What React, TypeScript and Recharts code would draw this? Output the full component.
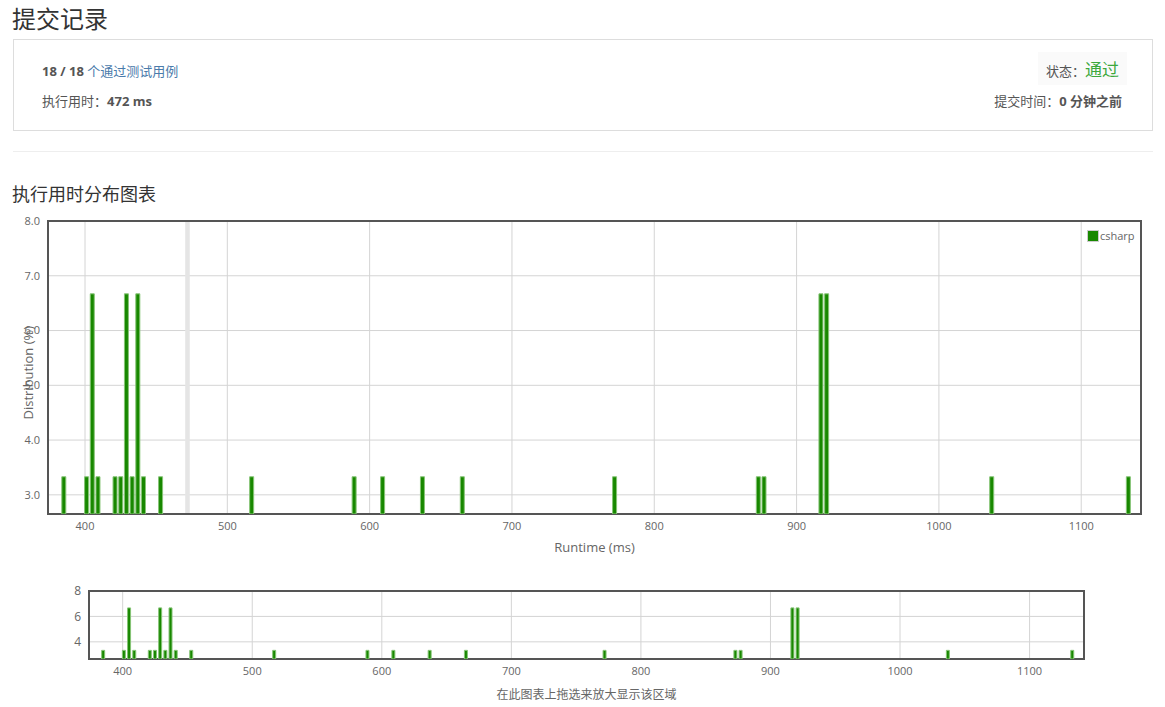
import React from "react";
import {
  BarChart,
  Bar,
  XAxis,
  YAxis,
  CartesianGrid,
  ReferenceArea,
} from "recharts";

// runtime bins (ms) and share of submissions (%)
const runtimeBins = [385, 401, 405, 409, 421, 425, 429, 433, 437, 441, 453, 517, 589, 609, 637, 665, 772, 873, 877, 917, 921, 1037, 1133];
const distribution = [3.33, 3.33, 6.67, 3.33, 3.33, 3.33, 6.67, 3.33, 6.67, 3.33, 3.33, 3.33, 3.33, 3.33, 3.33, 3.33, 3.33, 3.33, 3.33, 6.67, 6.67, 3.33, 3.33];
const xTicks = [400, 500, 600, 700, 800, 900, 1000, 1100];
const yTicks = [3, 4, 5, 6, 7, 8];
const yTicksSmall = [4, 6, 8];
const myRuntime = 472;
const xDomain: [number, number] = [374, 1142];
const yDomain: [number, number] = [2.65, 8];

const data = runtimeBins.map((ms, i) => ({ ms, csharp: distribution[i] }));

const FONT = '"Open Sans", "Noto Sans CJK SC", sans-serif';
const CJK = '"Noto Sans CJK SC", sans-serif';
const GREEN = "#188800";
const tick = { fontSize: 11, fill: "#666", fontFamily: FONT };

export default function App() {
  return (
    <div style={{ position: "absolute", left: 0, top: 0, width: 1165, height: 707, background: "#fff", fontFamily: FONT, color: "#333" }}>
      <div style={{ position: "absolute", left: 12, top: 0, fontSize: 24, fontFamily: CJK }}>提交记录</div>

      <div style={{ position: "absolute", left: 13, top: 39, width: 1138, height: 90, border: "1px solid #ddd" }}>
        <div style={{ position: "absolute", left: 28, top: 21, fontSize: 13, color: "#555" }}>
          <b>18 / 18</b> <span style={{ color: "#4a7bab" }}>个通过测试用例</span>
        </div>
        <div style={{ position: "absolute", left: 28, top: 51, fontSize: 13, color: "#555" }}>
          执行用时：<b>472 ms</b>
        </div>
        <div style={{ position: "absolute", right: 25, top: 12, padding: "4px 8px", background: "#fafafa", fontSize: 13, color: "#555" }}>
          状态：<span style={{ color: "#3ca83c", fontSize: 17 }}>通过</span>
        </div>
        <div style={{ position: "absolute", right: 30, top: 51, fontSize: 13, color: "#555" }}>
          提交时间：<b>0 分钟之前</b>
        </div>
      </div>

      <div style={{ position: "absolute", left: 13, top: 151, width: 1140, height: 1, background: "#eee" }} />

      <div style={{ position: "absolute", left: 12, top: 180, fontSize: 18, fontFamily: CJK }}>执行用时分布图表</div>

      <div style={{ position: "absolute", left: 0, top: 210 }}>
        <BarChart width={1165} height={360} data={data} margin={{ top: 11, right: 24, bottom: 26, left: 8 }}>
          <CartesianGrid stroke="#d4d4d4" />
          <XAxis
            type="number"
            dataKey="ms"
            domain={xDomain}
            ticks={xTicks}
            allowDataOverflow
            tick={tick}
            tickLine={false}
            axisLine={false}
            height={30}
            label={{ value: "Runtime (ms)", position: "insideBottom", offset: -8, fontSize: 13, fill: "#666", fontFamily: FONT }}
          />
          <YAxis
            type="number"
            domain={yDomain}
            ticks={yTicks}
            allowDataOverflow
            tick={tick}
            tickLine={false}
            axisLine={false}
            width={40}
            tickFormatter={(v: number) => v.toFixed(1)}
            label={{ value: "Distribution (%)", angle: -90, position: "insideLeft", offset: 20, dy: 52, fontSize: 13, fill: "#666", fontFamily: FONT }}
          />
          <ReferenceArea x1={myRuntime - 1.6} x2={myRuntime + 1.6} fill="#e5e5e5" fillOpacity={1} stroke="none" />
          <Bar dataKey="csharp" name="csharp" fill={GREEN} stroke="#86c476" strokeWidth={1} barSize={4} isAnimationActive={false} />
          <ReferenceArea x1={xDomain[0]} x2={xDomain[1]} y1={yDomain[0]} y2={yDomain[1]} fill="none" stroke="#555" strokeWidth={2} />
        </BarChart>
        <div style={{ position: "absolute", left: 1087, top: 18, display: "flex", alignItems: "center", fontSize: 11, color: "#666" }}>
          <span style={{ width: 10, height: 10, background: GREEN, border: "1px solid #ccc", display: "inline-block" }} />
          <span style={{ marginLeft: 1 }}>csharp</span>
        </div>
      </div>

      <div style={{ position: "absolute", left: 0, top: 580 }}>
        <BarChart width={1165} height={127} data={data} margin={{ top: 11, right: 81, bottom: 24, left: 59 }}>
          <CartesianGrid stroke="#d4d4d4" />
          <XAxis
            type="number"
            dataKey="ms"
            domain={xDomain}
            ticks={xTicks}
            allowDataOverflow
            tick={tick}
            tickLine={false}
            axisLine={false}
            height={24}
            label={{ value: "在此图表上拖选来放大显示该区域", position: "insideBottom", offset: -16, fontSize: 12, fill: "#666", fontFamily: CJK }}
          />
          <YAxis
            type="number"
            domain={yDomain}
            ticks={yTicksSmall}
            allowDataOverflow
            tick={{ ...tick, fontSize: 12 }}
            tickLine={false}
            axisLine={false}
            width={30}
          />
          <Bar dataKey="csharp" fill={GREEN} stroke="#86c476" strokeWidth={1} barSize={3} isAnimationActive={false} />
          <ReferenceArea x1={xDomain[0]} x2={xDomain[1]} y1={yDomain[0]} y2={yDomain[1]} fill="none" stroke="#555" strokeWidth={2} />
        </BarChart>
      </div>
    </div>
  );
}
